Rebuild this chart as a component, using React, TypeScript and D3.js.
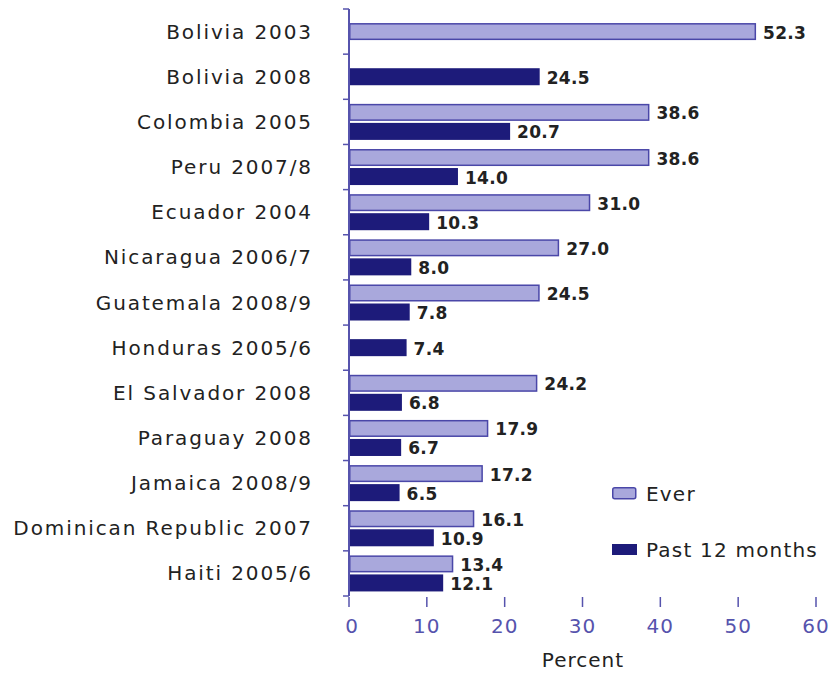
import React from "react";
import * as d3 from "d3";

const categories = [
  "Bolivia 2003",
  "Bolivia 2008",
  "Colombia 2005",
  "Peru 2007/8",
  "Ecuador 2004",
  "Nicaragua 2006/7",
  "Guatemala 2008/9",
  "Honduras 2005/6",
  "El Salvador 2008",
  "Paraguay 2008",
  "Jamaica 2008/9",
  "Dominican Republic 2007",
  "Haiti 2005/6",
];
const everValues: (number | null)[] = [52.3, null, 38.6, 38.6, 31.0, 27.0, 24.5, null, 24.2, 17.9, 17.2, 16.1, 13.4];
const pastValues: (number | null)[] = [null, 24.5, 20.7, 14.0, 10.3, 8.0, 7.8, 7.4, 6.8, 6.7, 6.5, 10.9, 12.1];
const xTicks = [0, 10, 20, 30, 40, 50, 60];
const seriesNames = ["Ever", "Past 12 months"];

const W = 834;
const H = 673;
const EVER_FILL = "#a9a8dc";
const EVER_STROKE = "#4a47a8";
const PAST_FILL = "#1d1b7a";
const AXIS = "#5653ad";
const TEXT = "#222";
const FONT = "'DejaVu Sans', sans-serif";

export default function App() {
  const x = d3.scaleLinear().domain([0, 60]).range([349, 816]);
  const y = d3.scaleBand<string>().domain(categories).range([9, 596]);
  const sub = d3
    .scaleBand<string>()
    .domain(["ever", "past"])
    .range([0, y.bandwidth()])
    .paddingInner(0.105)
    .paddingOuter(0.24);
  const bh = sub.bandwidth();

  const bars: { key: string; series: string; v: number; yTop: number }[] = [];
  categories.forEach((c, i) => {
    const e = everValues[i];
    const p = pastValues[i];
    const top = y(c)!;
    const center = top + y.bandwidth() / 2;
    if (e != null && p != null) {
      bars.push({ key: c + "e", series: "ever", v: e, yTop: top + sub("ever")! });
      bars.push({ key: c + "p", series: "past", v: p, yTop: top + sub("past")! });
    } else if (e != null) {
      bars.push({ key: c + "e", series: "ever", v: e, yTop: center - bh / 2 });
    } else if (p != null) {
      bars.push({ key: c + "p", series: "past", v: p, yTop: center - bh / 2 });
    }
  });

  const boundaries = categories.map((c) => y(c)!).concat([596]);

  return (
    <svg
      width={W}
      height={H}
      style={{ position: "absolute", left: 0, top: 0, background: "#fff" }}
      fontFamily={FONT}
    >
      {/* category labels */}
      {categories.map((c) => (
        <text
          key={c}
          x={313}
          y={y(c)! + y.bandwidth() / 2}
          textAnchor="end"
          dominantBaseline="central"
          fontSize={20}
          fill={TEXT}
          letterSpacing={1.9}
        >
          {c}
        </text>
      ))}

      {/* bars */}
      {bars.map((b) =>
        b.series === "ever" ? (
          <rect
            key={b.key}
            x={x(0) + 0.75}
            y={b.yTop + 0.75}
            width={x(b.v) - x(0) - 1.5}
            height={bh - 1.5}
            fill={EVER_FILL}
            stroke={EVER_STROKE}
            strokeWidth={1.5}
          />
        ) : (
          <rect key={b.key} x={x(0)} y={b.yTop} width={x(b.v) - x(0)} height={bh} fill={PAST_FILL} />
        )
      )}

      {/* value labels */}
      {bars.map((b) => (
        <text
          key={b.key + "l"}
          x={x(b.v) + 7}
          y={b.yTop + bh / 2 + 1}
          dominantBaseline="central"
          fontSize={17}
          fontWeight={600}
          fill={TEXT}
          letterSpacing={0.3}
        >
          {b.v.toFixed(1)}
        </text>
      ))}

      {/* y axis */}
      <line x1={x(0)} x2={x(0)} y1={9} y2={596} stroke={AXIS} strokeWidth={2} />
      {boundaries.map((b, i) => (
        <line key={"yt" + i} x1={x(0) - 6} x2={x(0)} y1={b} y2={b} stroke={AXIS} strokeWidth={1.5} />
      ))}

      {/* x ticks */}
      {xTicks.map((t) => (
        <g key={"xt" + t}>
          <line x1={x(t)} x2={x(t)} y1={597} y2={607} stroke={AXIS} strokeWidth={1.5} />
          <text
            x={x(t) + (t === 0 ? 3 : 0)}
            y={626}
            textAnchor="middle"
            dominantBaseline="central"
            fontSize={20}
            fill={AXIS}
            letterSpacing={1}
          >
            {t}
          </text>
        </g>
      ))}
      <text x={583} y={660} textAnchor="middle" dominantBaseline="central" fontSize={20} fill={TEXT} letterSpacing={1}>
        Percent
      </text>

      {/* legend */}
      <rect x={612.75} y={487.75} width={23} height={11} rx={2} fill={EVER_FILL} stroke={EVER_STROKE} strokeWidth={1.5} />
      <text x={646} y={494} dominantBaseline="central" fontSize={20} fill={TEXT} letterSpacing={1.2}>
        {seriesNames[0]}
      </text>
      <rect x={612} y={544} width={25} height={11} fill={PAST_FILL} />
      <text x={646} y={550} dominantBaseline="central" fontSize={20} fill={TEXT} letterSpacing={1.2}>
        {seriesNames[1]}
      </text>
    </svg>
  );
}
